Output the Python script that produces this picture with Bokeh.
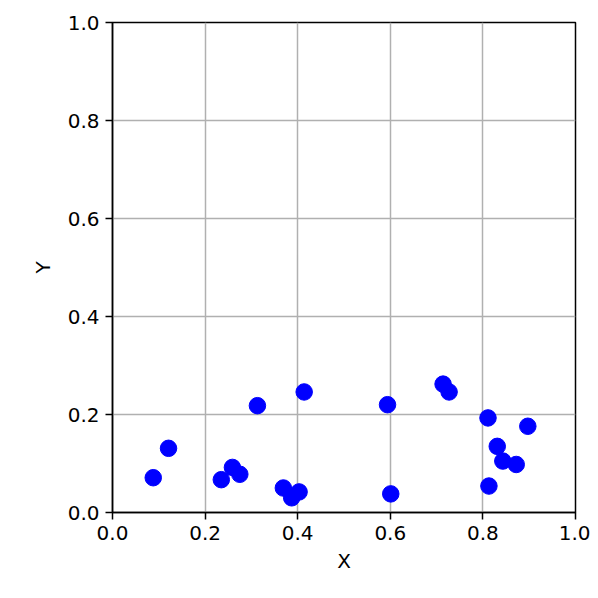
from bokeh.plotting import figure
from bokeh.models import Range1d, FixedTicker, NumeralTickFormatter
from bokeh.embed import file_html
from bokeh.resources import INLINE

x_vals = [0.088, 0.121, 0.235, 0.259, 0.275, 0.313, 0.369, 0.387, 0.403, 0.414,
          0.594, 0.601, 0.714, 0.727, 0.811, 0.813, 0.831, 0.843, 0.872, 0.897]
y_vals = [0.071, 0.131, 0.067, 0.092, 0.078, 0.218, 0.050, 0.030, 0.042, 0.246,
          0.220, 0.038, 0.262, 0.246, 0.193, 0.054, 0.135, 0.105, 0.098, 0.176]
ticks = [0.0, 0.2, 0.4, 0.6, 0.8, 1.0]

p = figure(width=590, height=590, output_backend="svg", toolbar_location=None,
           x_range=Range1d(0, 1), y_range=Range1d(0, 1),
           min_border_left=112, min_border_right=15, min_border_top=22, min_border_bottom=78)

p.scatter(x_vals, y_vals, size=16.5, color="#0000ff", line_color="#0000ff")

p.outline_line_color = "black"
p.outline_line_width = 1.5
p.background_fill_color = "white"
p.border_fill_color = "white"

for ax in (p.xaxis[0], p.yaxis[0]):
    ax.ticker = FixedTicker(ticks=ticks)
    ax.formatter = NumeralTickFormatter(format="0.0")
    ax.minor_tick_line_color = None
    ax.major_tick_out = 7
    ax.major_tick_in = 0
    ax.major_tick_line_color = "black"
    ax.major_tick_line_width = 1.5
    ax.axis_line_color = "black"
    ax.axis_line_width = 1.5
    ax.major_label_text_font = "DejaVu Sans"
    ax.major_label_text_font_size = "20px"
    ax.major_label_text_color = "black"
    ax.axis_label_text_font = "DejaVu Sans"
    ax.axis_label_text_font_size = "20px"
    ax.axis_label_text_font_style = "normal"
    ax.axis_label_text_color = "black"
    ax.major_label_standoff = 6

p.xaxis.axis_label = "X"
p.yaxis.axis_label = "Y"
p.yaxis.axis_label_standoff = 10
p.xaxis.axis_label_standoff = 6

p.grid.grid_line_color = "#b0b0b0"
p.grid.grid_line_width = 1.5

open("out.html", "w").write(file_html(p, INLINE))
